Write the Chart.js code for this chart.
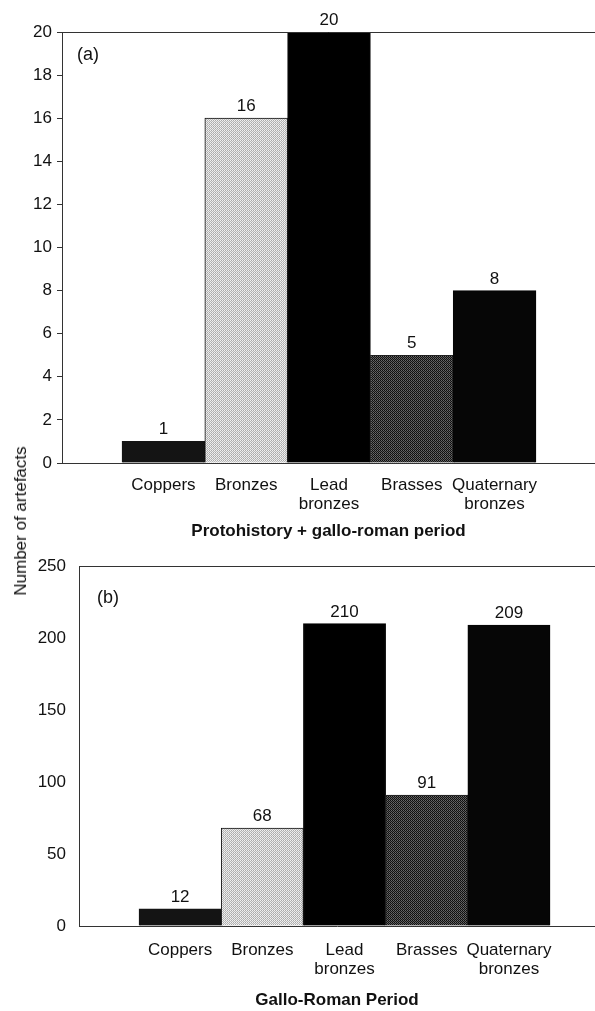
<!DOCTYPE html>
<html>
<head>
<meta charset="utf-8">
<script src="https://cdn.jsdelivr.net/npm/chart.js@4.4.0/dist/chart.umd.min.js"></script>
<style>
  html, body { margin: 0; padding: 0; background: #fff; }
  #wrap { position: relative; width: 595px; height: 1011px; overflow: hidden; }
  canvas { position: absolute; left: 0; }
  #chartA { top: 0; }
  #chartB { top: 548px; }
  #ytitle {
    position: absolute; left: 21px; top: 521px;
    transform: translate(-50%, -50%) rotate(-90deg);
    font: 17px "Liberation Sans", Arial, sans-serif;
    color: #111; white-space: nowrap;
  }
</style>
</head>
<body>
<div id="wrap">
  <canvas id="chartA" width="595" height="548"></canvas>
  <canvas id="chartB" width="595" height="463"></canvas>
  <div id="ytitle">Number of artefacts</div>
</div>
<script>
// data
const categories = [["Coppers"], ["Bronzes"], ["Lead", "bronzes"], ["Brasses"], ["Quaternary", "bronzes"]];
const protohistoryCounts = [1, 16, 20, 5, 8];
const galloRomanCounts = [12, 68, 210, 91, 209];
const protohistoryAxis = { max: 20, step: 2 };
const galloRomanAxis = { max: 250, step: 50 };
const protohistoryTitle = "Protohistory + gallo-roman period";
const galloRomanTitle = "Gallo-Roman Period";

const FONT = '"Liberation Sans", Arial, sans-serif';
Chart.defaults.font.family = FONT;
Chart.defaults.color = "#111";

// small stipple patterns to mimic the printed greys
function stipple(pixels) {
  const c = document.createElement("canvas");
  c.width = 2; c.height = 2;
  const g = c.getContext("2d");
  pixels.forEach((col, i) => {
    g.fillStyle = col;
    g.fillRect(i % 2, Math.floor(i / 2), 1, 1);
  });
  return g.createPattern(c, "repeat");
}
const bronzeFill = stipple(["#f2f2f2", "#a9a9a9", "#b9b9b9", "#e6e6e6"]);
const brassFill = stipple(["#0c0c0c", "#6a6a6a", "#555555", "#151515"]);
const barFills = ["#141414", bronzeFill, "#000000", brassFill, "#060606"];
const barBorders = ["#141414", "#111111", "#000000", "#222222", "#060606"];

const decorations = {
  id: "decorations",
  afterDatasetsDraw(chart, args, opts) {
    const ctx = chart.ctx;
    const area = chart.chartArea;
    const meta = chart.getDatasetMeta(0);
    const values = chart.data.datasets[0].data;
    ctx.save();
    ctx.fillStyle = "#111";
    ctx.font = "17px " + FONT;
    ctx.textAlign = "center";
    ctx.textBaseline = "alphabetic";
    meta.data.forEach((bar, i) => {
      ctx.fillText(String(values[i].y), bar.x, bar.y - opts.offset);
    });
    ctx.textAlign = "left";
    ctx.textBaseline = "middle";
    ctx.font = "18px " + FONT;
    ctx.fillText(opts.panel, area.left + opts.panelDx, area.top + opts.panelDy);
    ctx.strokeStyle = "#333";
    ctx.lineWidth = 1;
    ctx.beginPath();
    ctx.moveTo(area.left, area.top + 0.5);
    ctx.lineTo(area.right, area.top + 0.5);
    ctx.stroke();
    ctx.restore();
  }
};

function makeChart(ctx, counts, axis, title, cfg) {
  return new Chart(ctx, {
    type: "bar",
    data: {
      datasets: [{
        data: counts.map((v, i) => ({ x: i, y: v })),
        backgroundColor: barFills,
        borderColor: barBorders,
        borderWidth: 1,
        barPercentage: 1,
        categoryPercentage: 1,
      }],
    },
    options: {
      responsive: false,
      animation: false,
      layout: { padding: { top: cfg.padTop, left: 0, right: 0, bottom: 0 } },
      plugins: {
        legend: { display: false },
        tooltip: { enabled: false },
        decorations: cfg.deco,
      },
      scales: {
        x: {
          type: "linear",
          offset: false,
          min: cfg.xMin,
          max: cfg.xMax,
          ticks: {
            stepSize: 1,
            includeBounds: false,
            autoSkip: false,
            maxRotation: 0,
            padding: cfg.labelPad,
            color: "#111",
            font: { size: 17, lineHeight: "19px" },
            callback: (v) => (Number.isInteger(v) && v >= 0 && v < categories.length ? categories[v] : ""),
          },
          afterBuildTicks(scale) {
            scale.ticks = scale.ticks.filter((t) => t.value >= 0 && t.value < categories.length);
          },
          grid: { display: true, offset: false, drawOnChartArea: false, drawTicks: false },
          border: { display: true, color: "#333", width: 1 },
          title: {
            display: true,
            text: title,
            color: "#111",
            font: { size: 17, weight: "bold", lineHeight: 1.2 },
            padding: { top: 0, bottom: cfg.titlePad },
          },
          afterFit(scale) { scale.height = 85; },
        },
        y: {
          min: 0,
          max: axis.max,
          ticks: { stepSize: axis.step, padding: 5, color: "#111", font: { size: 17 } },
          grid: {
            display: true, drawOnChartArea: false, drawTicks: true,
            tickLength: cfg.tickLen, color: "#333", tickColor: cfg.tickColor,
          },
          border: { display: true, color: "#333", width: 1 },
          afterFit(scale) { scale.width = cfg.yWidth; },
        },
      },
    },
    plugins: [decorations],
  });
}

makeChart(document.getElementById("chartA").getContext("2d"), protohistoryCounts, protohistoryAxis, protohistoryTitle, {
  padTop: 32, xMin: -1.225, xMax: 5.213, labelPad: 12.5, titlePad: 6,
  tickLen: 5, tickColor: "#333", yWidth: 62,
  deco: { offset: 7, panel: "(a)", panelDx: 15, panelDy: 23 },
});

makeChart(document.getElementById("chartB").getContext("2d"), galloRomanCounts, galloRomanAxis, galloRomanTitle, {
  padTop: 18, xMin: -1.23, xMax: 5.047, labelPad: 14.5, titlePad: 0,
  tickLen: 8, tickColor: "rgba(0,0,0,0)", yWidth: 79,
  deco: { offset: 7, panel: "(b)", panelDx: 18, panelDy: 32 },
});
</script>
</body>
</html>
